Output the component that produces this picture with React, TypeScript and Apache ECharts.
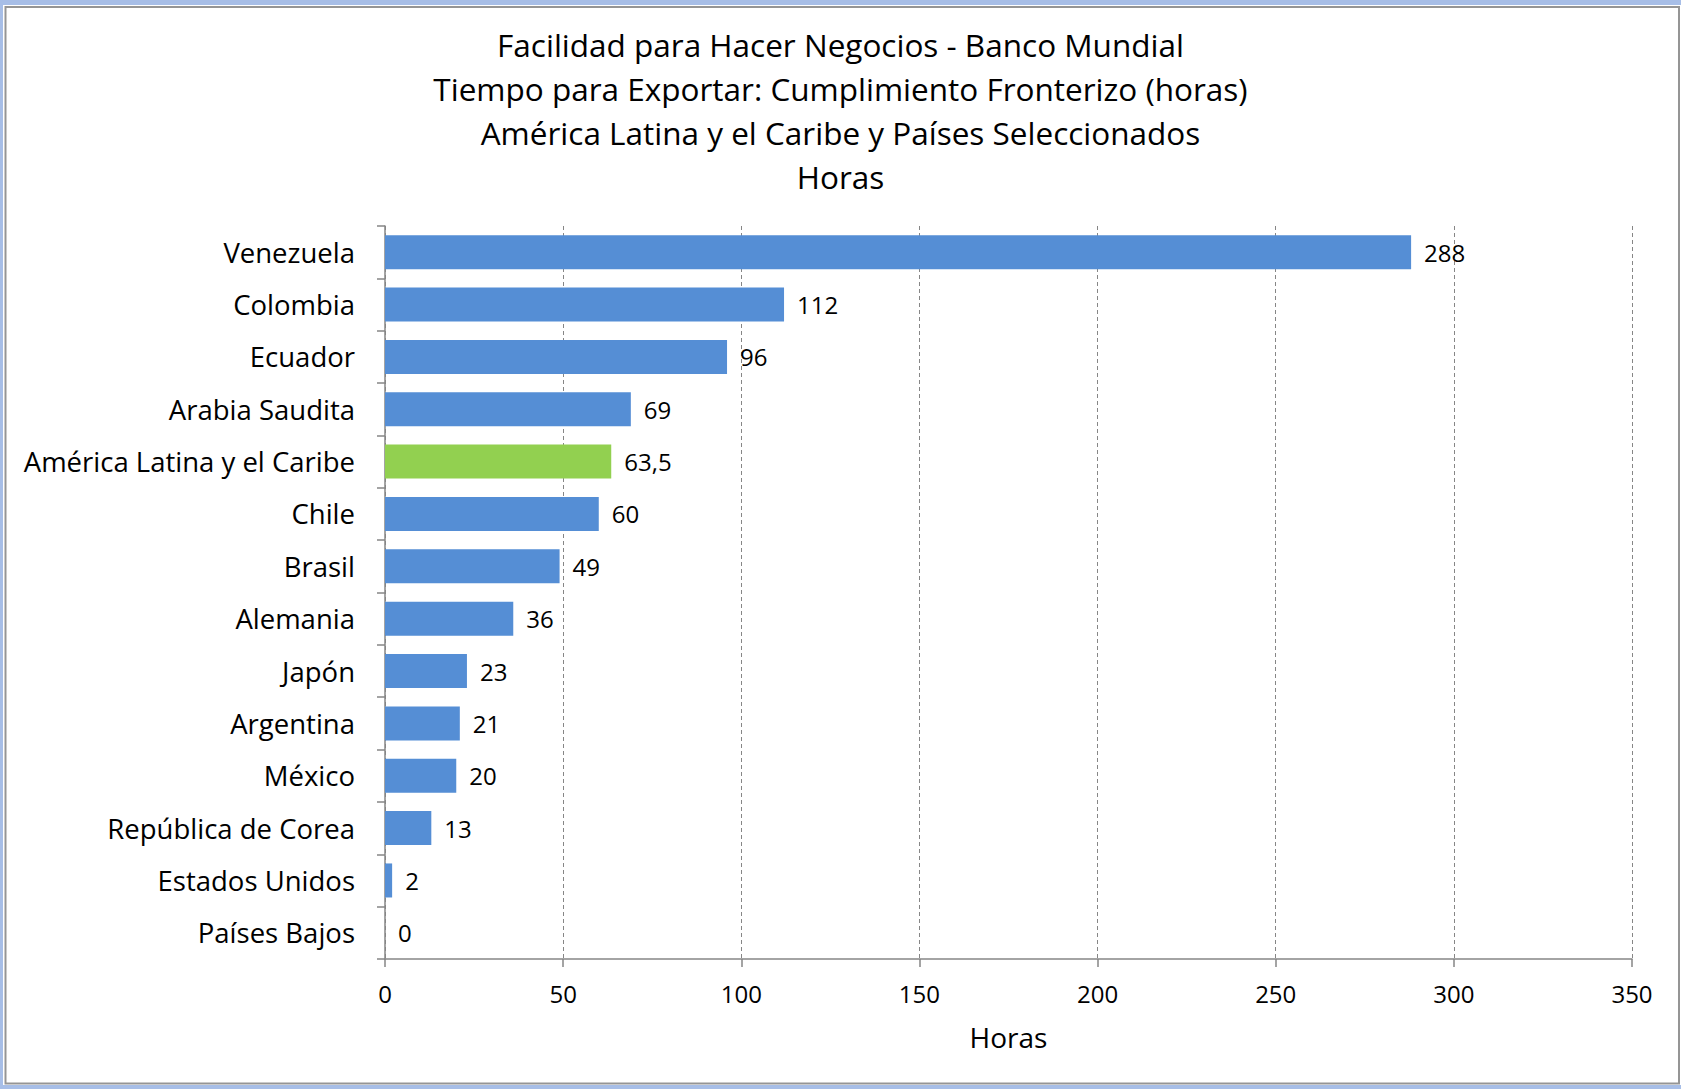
import React, { useEffect, useRef } from "react";
import * as echarts from "echarts";

const titleLines = [
  "Facilidad para Hacer Negocios - Banco Mundial",
  "Tiempo para Exportar: Cumplimiento Fronterizo (horas)",
  "América Latina y el Caribe y Países Seleccionados",
  "Horas",
];

const categories = [
  "Venezuela",
  "Colombia",
  "Ecuador",
  "Arabia Saudita",
  "América Latina y el Caribe",
  "Chile",
  "Brasil",
  "Alemania",
  "Japón",
  "Argentina",
  "México",
  "República de Corea",
  "Estados Unidos",
  "Países Bajos",
];

const values = [288, 112, 96, 69, 63.5, 60, 49, 36, 23, 21, 20, 13, 2, 0];

const highlighted = "América Latina y el Caribe";

const xTicks = { min: 0, max: 350, interval: 50 };
const xAxisName = "Horas";

const FONT = "Open Sans";
const BLUE = "#558ED5";
const GREEN = "#92D050";

export default function App() {
  const ref = useRef<HTMLDivElement>(null);

  useEffect(() => {
    document.body.style.margin = "0";
    const chart = echarts.init(ref.current!, null, { renderer: "svg" });
    chart.setOption({
      animation: false,
      backgroundColor: "#ffffff",
      textStyle: { fontFamily: FONT, color: "#000" },
      graphic: [
        {
          type: "rect",
          silent: true,
          z: -10,
          shape: { x: 0, y: 0, width: 1681, height: 1089 },
          style: { fill: "#A7BEE7" },
        },
        {
          type: "rect",
          silent: true,
          z: -9,
          shape: { x: 3, y: 5, width: 1678, height: 1080 },
          style: { fill: "#ffffff" },
        },
        {
          type: "rect",
          silent: true,
          z: -8,
          shape: { x: 5.5, y: 7, width: 1673.5, height: 1076.5 },
          style: { fill: "#ffffff", stroke: "#959595", lineWidth: 2 },
        },
      ],
      title: {
        text: titleLines.join("\n"),
        left: "center",
        top: 17,
        textStyle: {
          fontFamily: FONT,
          fontSize: 31.5,
          fontWeight: "normal",
          lineHeight: 44,
          color: "#000",
        },
      },
      grid: { left: 385, right: 49, top: 226, bottom: 130, containLabel: false },
      xAxis: {
        type: "value",
        min: xTicks.min,
        max: xTicks.max,
        interval: xTicks.interval,
        name: xAxisName,
        nameLocation: "middle",
        nameGap: 64,
        nameTextStyle: { fontFamily: FONT, fontSize: 28, color: "#000" },
        axisLine: { show: true, lineStyle: { color: "#868686", width: 1.5 } },
        axisTick: { show: true, length: 8, lineStyle: { color: "#868686", width: 1.5 } },
        axisLabel: { fontFamily: FONT, fontSize: 24, color: "#000", margin: 22 },
        splitLine: { show: true, lineStyle: { color: "#868686", type: [4, 3], width: 1 } },
      },
      yAxis: {
        type: "category",
        data: categories,
        inverse: true,
        axisLine: { show: true, lineStyle: { color: "#868686", width: 1.5 } },
        axisTick: { show: true, length: 8, lineStyle: { color: "#868686", width: 1.5 } },
        axisLabel: { fontFamily: FONT, fontSize: 27.5, color: "#000", margin: 30 },
        splitLine: { show: false },
      },
      series: [
        {
          type: "bar",
          barCategoryGap: "35%",
          data: values.map((v, i) => ({
            value: v,
            itemStyle: { color: categories[i] === highlighted ? GREEN : BLUE },
          })),
          label: {
            show: true,
            position: "right",
            distance: 13,
            fontFamily: FONT,
            fontSize: 24,
            color: "#000",
            formatter: (p: any) => String(p.value).replace(".", ","),
          },
        },
      ],
    });
    return () => chart.dispose();
  }, []);

  return (
    <div
      ref={ref}
      style={{ position: "absolute", left: 0, top: 0, width: 1681, height: 1089 }}
    />
  );
}
